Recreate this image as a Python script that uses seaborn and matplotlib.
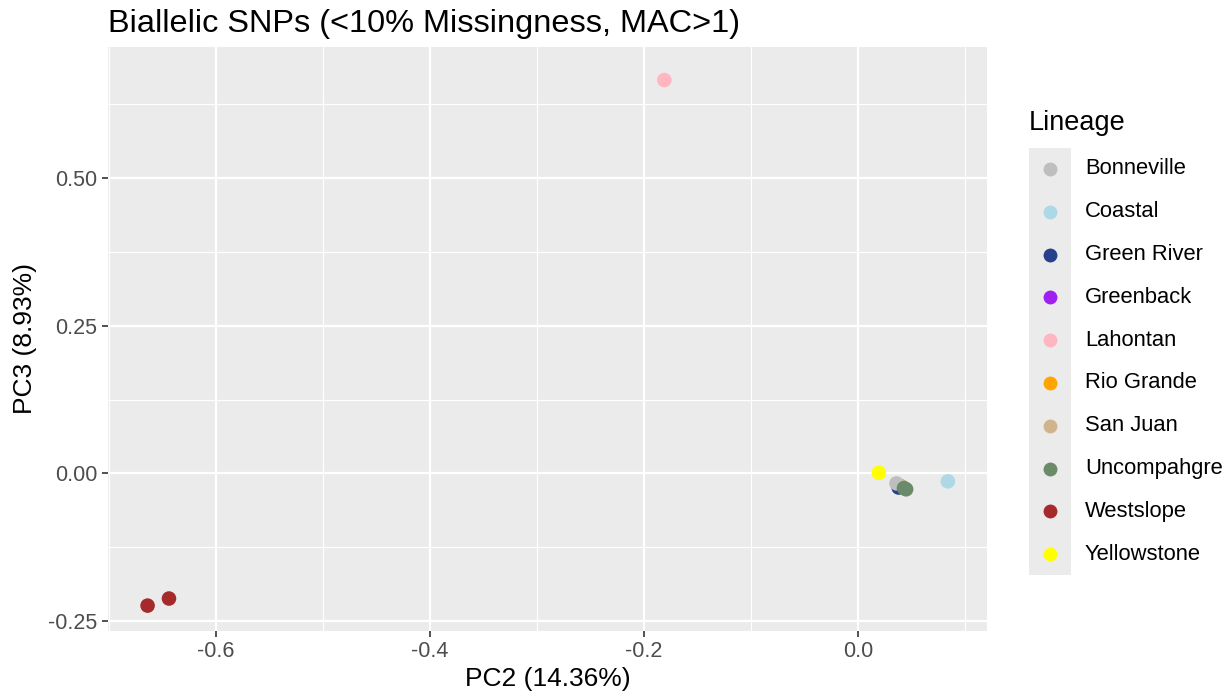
import numpy as np
import pandas as pd
import matplotlib
matplotlib.use("Agg")
import matplotlib.pyplot as plt
import seaborn as sns
from matplotlib.lines import Line2D
from matplotlib.patches import Rectangle

# PCA scores per sample (PC2, PC3)
lineage = ["Greenback", "Rio Grande", "San Juan", "Green River", "Bonneville",
           "Uncompahgre", "Uncompahgre", "Coastal", "Yellowstone",
           "Lahontan", "Westslope", "Westslope"]
pc2 = [0.040, 0.041, 0.039, 0.038, 0.036, 0.043, 0.045, 0.084, 0.0195,
       -0.181, -0.664, -0.644]
pc3 = [-0.022, -0.023, -0.021, -0.024, -0.017, -0.025, -0.027, -0.0135, 0.001,
       0.666, -0.224, -0.212]

levels = ["Bonneville", "Coastal", "Green River", "Greenback", "Lahontan",
          "Rio Grande", "San Juan", "Uncompahgre", "Westslope", "Yellowstone"]
colors = ["#BEBEBE", "#ADD8E6", "#27408B", "#A020F0", "#FFB6C1",
          "#FFA500", "#D2B48C", "#698B69", "#A52A2A", "#FFFF00"]
palette = dict(zip(levels, colors))

df = pd.DataFrame({"PC2": pc2, "PC3": pc3, "Lineage": lineage})

sns.set_theme(style="darkgrid")
plt.rcParams["font.family"] = ["Liberation Sans", "DejaVu Sans"]

fig = plt.figure(figsize=(12.32, 7.0), dpi=100)
ax = fig.add_axes([108 / 1232, 1 - 631 / 700, (987 - 108) / 1232, (631 - 47) / 700])
ax.set_facecolor("#EBEBEB")

sns.scatterplot(data=df, x="PC2", y="PC3", hue="Lineage", palette=palette,
                hue_order=levels, s=110, linewidth=0, alpha=1, ax=ax, legend=False,
                zorder=3)

ax.set_xlim(-0.701, 0.1206)
ax.set_ylim(-0.267, 0.722)
ax.set_xticks([-0.6, -0.4, -0.2, 0.0])
ax.set_xticklabels(["-0.6", "-0.4", "-0.2", "0.0"])
ax.set_yticks([-0.25, 0.0, 0.25, 0.5])
ax.set_yticklabels(["-0.25", "0.00", "0.25", "0.50"])
ax.set_xticks([-0.7, -0.5, -0.3, -0.1, 0.1], minor=True)
ax.set_yticks([-0.125, 0.125, 0.375, 0.625], minor=True)
ax.grid(which="major", color="white", linewidth=1.6)
ax.grid(which="minor", color="white", linewidth=0.8)
ax.set_axisbelow(True)
for sp in ax.spines.values():
    sp.set_visible(False)
ax.tick_params(which="major", length=4.5, width=1.2, color="#333333",
               labelsize=15.5, labelcolor="#4D4D4D", pad=3, bottom=True, left=True)
ax.tick_params(which="minor", length=0)
ax.set_xlabel("PC2 (14.36%)", fontsize=19, color="black", labelpad=3)
ax.set_ylabel("PC3 (8.93%)", fontsize=19, color="black", labelpad=8)

fig.text(108 / 1232, 1 - 24 / 700, "Biallelic SNPs (<10% Missingness, MAC>1)",
         fontsize=23.4, ha="left", va="center", color="black")

# Legend drawn in figure coordinates
fig.text(1029 / 1232, 1 - 123 / 700, "Lineage", fontsize=19.5, ha="left",
         va="center", color="black")
fig.patches.append(Rectangle((1029 / 1232, 1 - 575 / 700), 42 / 1232, 427 / 700,
                             transform=fig.transFigure, facecolor="#EBEBEB",
                             edgecolor="none", zorder=0))
y0 = 169
step = 42.8
for i, (lv, c) in enumerate(zip(levels, colors)):
    yy = 1 - (y0 + i * step) / 700
    fig.add_artist(Line2D([1050 / 1232], [yy], marker="o", markersize=10,
                          markerfacecolor=c, markeredgewidth=0, linestyle="none",
                          transform=fig.transFigure))
    fig.text(1085 / 1232, yy, lv, fontsize=15.8, ha="left", va="center",
             color="black")

fig.savefig("out.png", dpi=100)
